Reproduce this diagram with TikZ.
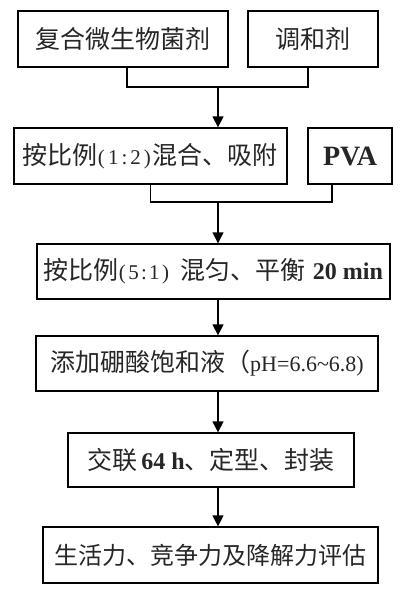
\documentclass[tikz,border=0pt]{standalone}
\usepackage{fontspec}
\setmainfont{Liberation Serif}
\newfontfamily\cjk{Noto Sans CJK SC}
\usetikzlibrary{arrows.meta}
\tikzset{
  box/.style={draw, line width=1.3pt, rectangle, inner sep=0pt, align=center,
    font=\cjk\fontsize{25}{30}\selectfont, text=black!85},
  conn/.style={line width=1.3pt},
  arr/.style={line width=1.3pt, -{Triangle[width=11pt,length=11pt]}},
}
\newcommand{\smallnum}[1]{{\rmfamily\fontsize{21}{24}\selectfont #1}}
\begin{document}
\begin{tikzpicture}[x=1pt,y=-1pt]
\useasboundingbox (0,0) rectangle (409,600);
% boxes
\node[box, minimum width=210pt, minimum height=56pt] (b1) at (123,39) {复合微生物菌剂};
\node[box, minimum width=130pt, minimum height=56pt] (b2) at (313,39) {调和剂};
\node[box, minimum width=273pt, minimum height=56pt] (b3) at (150.5,156)
  {按比例\smallnum{\makebox[53pt][s]{(\hfill1\hfill:\hfill2\hfill)}}\hspace{2pt}混合、吸附};
\node[box, minimum width=84pt, minimum height=56pt, font=\rmfamily\bfseries\fontsize{28}{32}\selectfont] (bP) at (350,156) {PVA};
\node[box, minimum width=353pt, minimum height=55pt] (b4) at (213.5,271.5)
  {按比例\smallnum{\makebox[50pt][s]{(\hfill5\hfill:\hfill1\hfill)}}\hspace{12pt}混匀、平衡\hspace{7pt}{\rmfamily\bfseries\fontsize{24}{28}\selectfont 20 min}};
\node[box, minimum width=342pt, minimum height=55pt] (b5) at (207,363.5)
  {添加硼酸饱和液（{\rmfamily\fontsize{22}{26}\selectfont pH=6.6\textasciitilde6.8)}};
\node[box, minimum width=286pt, minimum height=54pt] (b6) at (211,460)
  {交联\hspace{4pt}{\rmfamily\bfseries\fontsize{24}{28}\selectfont 64 h}、定型、封装};
\node[box, minimum width=335pt, minimum height=56pt, font=\cjk\fontsize{24}{30}\selectfont] (b7) at (210.5,555)
  {生活力、竞争力及降解力评估};
% junctions
\coordinate (j1) at (218,87);
\coordinate (j2) at (218,202);
\coordinate (ax) at (218,0);
% connectors
\draw[conn] ([xshift=4pt]b1.south) |- (j1);
\draw[conn] ([xshift=-5pt]b2.south) |- (j1);
\draw[arr] (j1) -- (j1 |- b3.north);
\draw[conn] (b3.south) |- (j2);
\draw[conn] ([xshift=-18pt]bP.south) |- (j2);
\draw[arr] (j2) -- (j2 |- b4.north);
\draw[arr] (b4.south -| ax) -- (b5.north -| ax);
\draw[arr] (b5.south -| ax) -- (b6.north -| ax);
\draw[arr] (b6.south -| ax) -- (b7.north -| ax);
\end{tikzpicture}
\end{document}
